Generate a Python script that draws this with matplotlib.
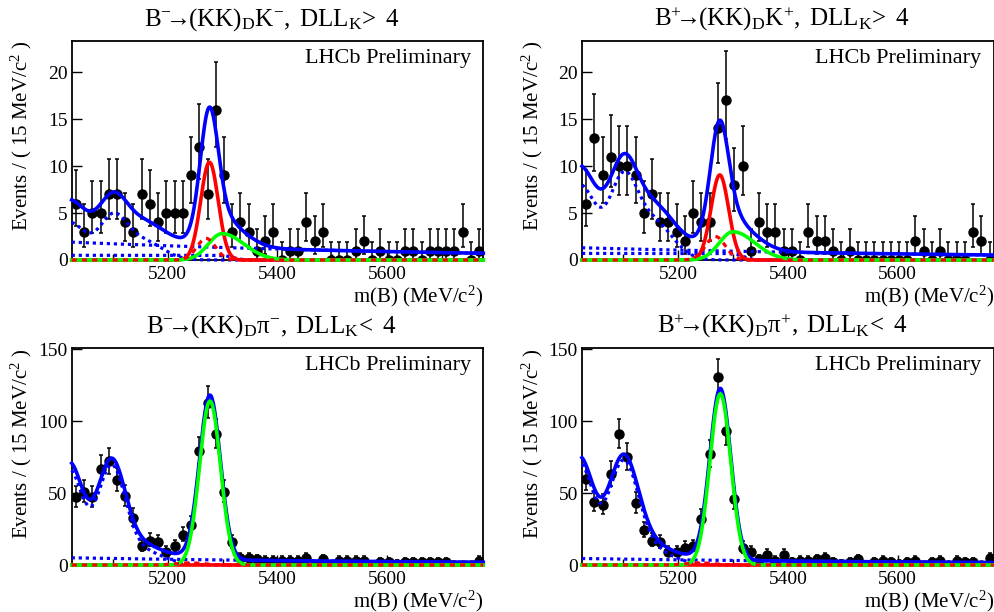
import numpy as np
import matplotlib
matplotlib.use('Agg')
import matplotlib.pyplot as plt
from matplotlib.ticker import MultipleLocator

plt.rcParams['font.family'] = ['Liberation Serif', 'DejaVu Serif']
plt.rcParams['mathtext.fontset'] = 'custom'
plt.rcParams['mathtext.rm'] = 'Liberation Serif'
plt.rcParams['mathtext.it'] = 'Liberation Serif:italic'

# 50 bins of 15 MeV/c2 from 5025 to 5775
mass_lo, mass_hi, bin_width = 5025, 5775, 15
bin_centers = np.arange(mass_lo + bin_width / 2, mass_hi, bin_width)

# events per bin
counts_dk_minus = [6, 3, 5, 5, 7, 7, 4, 3, 7, 6, 4, 5, 5, 5, 9, 12, 7, 16, 9, 3,
                   4, 3, 1, 2, 3, 0, 1, 1, 4, 2, 3, 0, 0, 0, 1, 2, 0, 1, 0, 0,
                   1, 1, 0, 1, 1, 1, 1, 3, 0, 1]
counts_dk_plus = [6, 13, 9, 11, 10, 10, 9, 5, 7, 4, 4, 3, 2, 5, 4, 4, 14, 17, 8, 10,
                  1, 4, 3, 3, 1, 1, 0, 3, 2, 2, 1, 0, 1, 0, 0, 0, 0, 0, 0, 0,
                  2, 1, 0, 1, 0, 0, 0, 3, 2, 0]
counts_dpi_minus = [47, 51, 47, 67, 72, 59, 48, 33, 13, 17, 16, 9, 13, 21, 28, 79, 113, 91, 51, 16,
                    5, 5, 4, 3, 3, 3, 3, 3, 5, 0, 4, 0, 3, 3, 3, 3, 0, 2, 2, 1,
                    2, 2, 2, 2, 2, 2, 0, 0, 0, 3]
counts_dpi_plus = [60, 44, 42, 63, 91, 75, 43, 24, 17, 16, 9, 9, 12, 13, 32, 77, 131, 93, 46, 12,
                   9, 4, 7, 3, 7, 2, 3, 3, 4, 5, 2, 1, 2, 4, 0, 2, 3, 2, 1, 2,
                   3, 0, 2, 3, 0, 3, 2, 2, 0, 5]

titles = [r'$\mathrm{B^{-}\!\!\!\rightarrow\!\!(KK)_{D}K^{-},\ DLL_{K}\!>\ 4}$',
          r'$\mathrm{B^{+}\!\!\!\rightarrow\!\!(KK)_{D}K^{+},\ DLL_{K}\!>\ 4}$',
          r'$\mathrm{B^{-}\!\!\!\rightarrow\!\!(KK)_{D}\pi^{-},\ DLL_{K}\!<\ 4}$',
          r'$\mathrm{B^{+}\!\!\!\rightarrow\!\!(KK)_{D}\pi^{+},\ DLL_{K}\!<\ 4}$']
y_max = [23.3, 23.3, 150.7, 150.7]
y_step = [5, 5, 50, 50]

# fit components
comb_height = [1.9, 1.3, 5.0, 4.5]
comb_slope = [0.0013, 0.0012, 0.0013, 0.0013]
low_height = [0.5, 0.7, 0.0, 0.0]
low_edge = 5320
partreco_mu = [[5020, 5100, 5155], [5020, 5100, 5155], [5020, 5097, 5150], [5020, 5100, 5150]]
partreco_sigma = [[30, 25, 35], [30, 25, 35], [25, 25, 40], [25, 27, 40]]
partreco_height = [[4.0, 4.3, 2.0], [8.0, 8.0, 4.0], [66, 65, 10], [70, 68, 10]]
red_mu = [5276, 5276, 5276, 5276]
red_sigma = [16, 16, 19, 19]
red_height = [10.4, 9.05, 0.0, 0.0]
green_mu = [5299, 5300, 5277, 5277]
green_sigma_left = [25, 25, 19, 19]
green_sigma_right = [40, 40, 19, 19]
green_height = [2.8, 3.0, 114, 119]
dashed_mu = [5270, 5268, 5240, 5240]
dashed_sigma = [17, 18, 25, 25]
dashed_height = [2.3, 2.5, 1.5, 1.5]

all_counts = [counts_dk_minus, counts_dk_plus, counts_dpi_minus, counts_dpi_plus]

# axes boxes in pixels: left, right, top, bottom
W, H = 995, 612
px_left = [71.7, 582, 71.7, 582]
px_right = [483.3, 993.7, 483.3, 993.7]
px_top = [41, 41, 348.3, 348.3]
px_bottom = [260, 260, 565, 565]


def gauss(x, mu, sigma, height):
    return height * np.exp(-0.5 * ((x - mu) / sigma) ** 2)


fig = plt.figure(figsize=(W / 100, H / 100), dpi=100)
xs = np.linspace(mass_lo, mass_hi, 751)

for i in range(4):
    ax = fig.add_axes([px_left[i] / W, 1 - px_bottom[i] / H,
                       (px_right[i] - px_left[i]) / W, (px_bottom[i] - px_top[i]) / H])
    n = np.array(all_counts[i], dtype=float)
    err_lo = np.sqrt(np.clip(n - 0.25, 0, None))
    err_hi = np.sqrt(n + 0.75) + 1
    ax.errorbar(bin_centers, n, yerr=[err_lo, err_hi], fmt='o', color='black',
                ms=6.5, elinewidth=1.1, capsize=1.5, capthick=1.1, zorder=2)

    comb = comb_height[i] * np.exp(-comb_slope[i] * (xs - mass_lo))
    low = low_height[i] / (1 + np.exp((xs - low_edge) / 8))
    partreco = sum(gauss(xs, m, s, h) for m, s, h in
                   zip(partreco_mu[i], partreco_sigma[i], partreco_height[i]))
    red = gauss(xs, red_mu[i], red_sigma[i], red_height[i])
    sig_g = np.where(xs < green_mu[i], green_sigma_left[i], green_sigma_right[i])
    green = gauss(xs, green_mu[i], sig_g, green_height[i])
    dashed = gauss(xs, dashed_mu[i], dashed_sigma[i], dashed_height[i])
    total = comb + low + partreco + red + green + dashed

    dots = (0, (1, 1.2))
    ax.plot(xs, total, color='blue', lw=2.6, zorder=3, clip_on=False)
    ax.plot(xs, comb, color='blue', lw=2.3, ls=dots, zorder=3)
    if low_height[i] > 0:
        ax.plot(xs, low, color='blue', lw=2.3, ls=dots, zorder=3, clip_on=False)
    ax.plot(xs, partreco, color='blue', lw=2.3, ls=dots, zorder=3, clip_on=False)
    ax.plot(xs, red, color='red', lw=2.6, zorder=4, clip_on=False)
    ax.plot(xs, green, color='#00ff00', lw=2.6, zorder=5, clip_on=False)
    ax.plot(xs, dashed, color='red', lw=2.3, ls=(0, (1.6, 1.6)), zorder=6, clip_on=False)

    ax.set_xlim(mass_lo, mass_hi)
    ax.set_ylim(0, y_max[i])
    ax.xaxis.set_major_locator(MultipleLocator(200))
    ax.xaxis.set_minor_locator(MultipleLocator(100))
    ax.yaxis.set_major_locator(MultipleLocator(y_step[i]))
    ax.tick_params(which='both', direction='in', top=False, right=False,
                   labelsize=14, width=1)
    ax.tick_params(axis='x', pad=4)
    ax.tick_params(axis='y', pad=3)
    ax.tick_params(which='major', length=7)
    ax.tick_params(which='minor', length=4)
    for sp in ax.spines.values():
        sp.set_linewidth(1.3)

    ax.annotate('m(B) (MeV/c$^{2}$)', xy=(1, 0), xycoords='axes fraction',
                xytext=(0, -26), textcoords='offset points',
                ha='right', va='center', fontsize=15)
    ax.annotate('Events / ( 15 MeV/c$^{2}$ )', xy=(0, 1), xycoords='axes fraction',
                xytext=(-36, 0), textcoords='offset points',
                ha='center', va='top', rotation=90, fontsize=15)
    ax.text(0.97, 0.92, 'LHCb Preliminary', transform=ax.transAxes,
            ha='right', va='center', fontsize=16)

    cx = (px_left[i] + px_right[i]) / 2 - 6
    base = 26 if i < 2 else 333
    fig.text(cx / W, 1 - base / H, titles[i], ha='center', va='baseline', fontsize=18)

fig.savefig('out.png', dpi=100)
